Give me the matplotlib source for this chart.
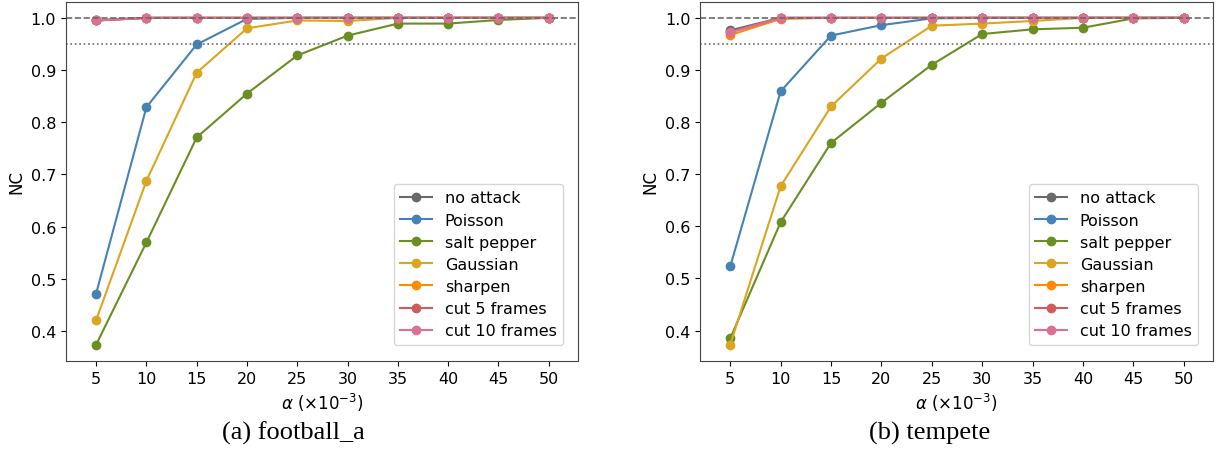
import numpy as np
import matplotlib.pyplot as plt

alpha = [5, 10, 15, 20, 25, 30, 35, 40, 45, 50]

labels = ['no attack', 'Poisson', 'salt pepper', 'Gaussian', 'sharpen',
          'cut 5 frames', 'cut 10 frames']
colors = ['dimgray', 'steelblue', 'olivedrab', 'goldenrod', 'darkorange',
          'indianred', 'palevioletred']

# (a) football_a
football_no_attack = [0.995, 1.0, 1.0, 1.0, 1.0, 1.0, 1.0, 1.0, 1.0, 1.0]
football_poisson = [0.472, 0.829, 0.949, 0.998, 1.0, 1.0, 1.0, 1.0, 1.0, 1.0]
football_salt = [0.374, 0.570, 0.771, 0.855, 0.928, 0.966, 0.989, 0.989, 0.996, 1.0]
football_gauss = [0.421, 0.688, 0.895, 0.980, 0.995, 0.994, 1.0, 1.0, 1.0, 1.0]
football_sharpen = [0.995, 1.0, 1.0, 1.0, 1.0, 1.0, 1.0, 1.0, 1.0, 1.0]
football_cut5 = [0.995, 1.0, 1.0, 1.0, 1.0, 1.0, 1.0, 1.0, 1.0, 1.0]
football_cut10 = [0.995, 1.0, 1.0, 1.0, 1.0, 1.0, 1.0, 1.0, 1.0, 1.0]

# (b) tempete
tempete_no_attack = [0.976, 1.0, 1.0, 1.0, 1.0, 1.0, 1.0, 1.0, 1.0, 1.0]
tempete_poisson = [0.523, 0.859, 0.966, 0.986, 0.999, 1.0, 1.0, 1.0, 1.0, 1.0]
tempete_salt = [0.385, 0.608, 0.760, 0.837, 0.910, 0.969, 0.978, 0.981, 0.999, 1.0]
tempete_gauss = [0.373, 0.677, 0.830, 0.922, 0.985, 0.989, 0.994, 1.0, 1.0, 1.0]
tempete_sharpen = [0.967, 0.998, 1.0, 1.0, 1.0, 1.0, 1.0, 1.0, 1.0, 1.0]
tempete_cut5 = [0.973, 1.0, 1.0, 1.0, 1.0, 1.0, 1.0, 1.0, 1.0, 1.0]
tempete_cut10 = [0.972, 1.0, 1.0, 1.0, 1.0, 1.0, 1.0, 1.0, 1.0, 1.0]

panels = [
    ('(a) football_a', [football_no_attack, football_poisson, football_salt,
                        football_gauss, football_sharpen, football_cut5,
                        football_cut10]),
    ('(b) tempete', [tempete_no_attack, tempete_poisson, tempete_salt,
                     tempete_gauss, tempete_sharpen, tempete_cut5,
                     tempete_cut10]),
]

fig = plt.figure(figsize=(12.17, 4.56), dpi=100)
ax_pos = [[0.0542, 0.2061, 0.4207, 0.7884],
          [0.5752, 0.2061, 0.4215, 0.7884]]
caption_x = [0.241, 0.764]

for i, (caption, series) in enumerate(panels):
    ax = fig.add_axes(ax_pos[i])
    for ys, lab, c in zip(series, labels, colors):
        ax.plot(alpha, ys, '-o', color=c, label=lab, lw=1.5, markersize=6)
    ax.axhline(1.0, color='dimgray', ls='--', lw=1.2)
    ax.axhline(0.95, color='dimgray', ls=':', lw=1.2)
    ax.set_xlim(2.0, 52.9)
    ax.set_xticks(alpha)
    ax.set_yticks([0.4, 0.5, 0.6, 0.7, 0.8, 0.9, 1.0])
    ax.tick_params(labelsize=11.5)
    ax.set_xlabel(r'$\alpha$ ($\times 10^{-3}$)', fontsize=12)
    ax.set_ylabel('NC', fontsize=12)
    for s in ax.spines.values():
        s.set_edgecolor('#444444')
    ax.legend(loc='lower right', bbox_to_anchor=(0.971, 0.045),
              borderaxespad=0, fontsize=11.5, labelspacing=0.45)
    fig.text(caption_x[i], 0.05, caption, ha='center', va='center',
             family='Liberation Serif', fontsize=19)

fig.savefig('out.png', dpi=100)
